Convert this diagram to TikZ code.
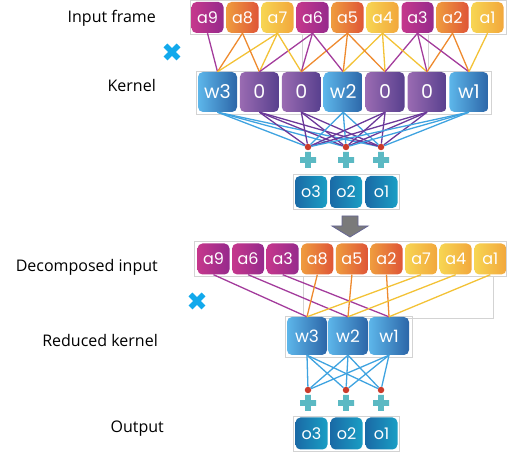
\documentclass[tikz,border=0pt]{standalone}
\usepackage{fontspec}
\setmainfont{Open Sans}
\newfontfamily\cellfont{Poppins}
\usetikzlibrary{positioning}
\definecolor{magL}{HTML}{C5378C}
\definecolor{magR}{HTML}{962A8C}
\definecolor{orgL}{HTML}{EF9C3E}
\definecolor{orgR}{HTML}{DF5537}
\definecolor{yelL}{HTML}{F7D552}
\definecolor{yelR}{HTML}{F2A73C}
\definecolor{wL}{HTML}{5DB6EA}
\definecolor{wR}{HTML}{2C66A8}
\definecolor{zL}{HTML}{9A6BB2}
\definecolor{zR}{HTML}{58408E}
\definecolor{oL}{HTML}{1A6AA6}
\definecolor{oR}{HTML}{1A9EC4}
\definecolor{lmag}{HTML}{A33C9C}
\definecolor{lorg}{HTML}{EE8A2E}
\definecolor{lyel}{HTML}{F3C236}
\definecolor{lblue}{HTML}{3FA3E0}
\definecolor{lpurp}{HTML}{6B3899}
\definecolor{dotred}{HTML}{CC3B2B}
\definecolor{plusteal}{HTML}{5BB9C3}
\definecolor{xblue}{HTML}{12A9EC}
\definecolor{framegray}{HTML}{D3D3D3}

\begin{document}
\begin{tikzpicture}[x=1pt, y=-1pt,
  rowlabel/.style={anchor=base east, inner sep=0pt, font=\fontsize{16}{19}\selectfont},
  cell/.style={rectangle, rounded corners=5pt, inner sep=0pt, text=white, minimum width=32pt, minimum height=31pt, font=\cellfont\fontsize{16}{18}\selectfont},
  magcell/.style={cell, left color=magL, right color=magR},
  orgcell/.style={cell, left color=orgL, right color=orgR},
  yelcell/.style={cell, left color=yelL, right color=yelR},
  kcell/.style={cell, minimum width=39pt, minimum height=40pt, font=\cellfont\fontsize{19}{22}\selectfont},
  wcell/.style={kcell, left color=wL, right color=wR},
  zcell/.style={kcell, left color=zL, right color=zR},
  ocell/.style={cell, minimum width=32pt, minimum height=32pt, left color=oL, right color=oR, font=\cellfont\fontsize{16}{18}\selectfont},
  wire/.style={line width=1.3pt},
  dot/.style={circle, fill=dotred, inner sep=0pt, minimum size=6.5pt},
  frame/.style={draw=framegray, line width=0.7pt},
  addsign/.pic={\fill[plusteal] (-8,-2.8) rectangle (8,2.8) (-2.8,-8) rectangle (2.8,8);},
  mulsign/.pic={\draw[xblue, line width=5.5pt] (-6.5,-6.5) -- (6.5,6.5) (-6.5,6.5) -- (6.5,-6.5);},
]
\useasboundingbox (0,0) rectangle (507,454);

% light frames behind the rows
\draw[frame] (190,0) rectangle (506,34);
\draw[frame] (302,34) rectangle (428,71);
\draw[frame] (196,71) rectangle (491,114);
\draw[frame] (293,174) rectangle (399,209);
\draw[frame] (194,241) rectangle (506,276);
\draw[frame] (303,276) rectangle (493,318);
\draw[frame] (285,316) rectangle (412,357);
\draw[frame] (293,416) rectangle (399,451);

% row labels
\node[rowlabel] (lbl-in) at (156,23) {Input frame};
\node[rowlabel] (lbl-k) at (156,92) {Kernel};
\node[rowlabel] (lbl-dec) at (158,272) {Decomposed input};
\node[rowlabel] (lbl-rk) at (158,347) {Reduced kernel};
\node[rowlabel] (lbl-out) at (164,433) {Output};

\pic at (172,52) {mulsign};
\pic at (197,301) {mulsign};

% input frame
\foreach \lab/\sty [count=\i] in {a9/magcell, a8/orgcell, a7/yelcell, a6/magcell, a5/orgcell, a4/yelcell, a3/magcell, a2/orgcell, a1/yelcell}
  \node[\sty] (in\i) at ({207.5+35*(\i-1)},17.5) {\lab};

% dilated kernel
\foreach \lab/\sty [count=\k] in {w3/wcell, 0/zcell, 0/zcell, w2/wcell, 0/zcell, 0/zcell, w1/wcell}
  \node[\sty] (k\k) at ({217.5+41.9*(\k-1)},92) {\lab};

% each kernel tap sees three neighbouring inputs
\foreach \k in {1,...,7}{
  \foreach \j in {0,1,2}{
    \pgfmathtruncatemacro\i{\k+\j}
    \pgfmathtruncatemacro\m{mod(\i-1,3)}
    \ifcase\m \def\lc{lmag}\or \def\lc{lorg}\or \def\lc{lyel}\fi
    \draw[wire, \lc] (in\i.south) -- (k\k.north);
  }
}

% sums and outputs
\foreach \x [count=\n] in {308,346,381}{
  \node[dot] (d\n) at (\x,147) {};
  \pic at (\x,160) {addsign};
}
\foreach \lab/\x [count=\n] in {o3/311,o2/346,o1/381.5}
  \node[ocell] (o\n) at (\x,192) {\lab};

\foreach \k in {1,...,7}{
  \pgfmathtruncatemacro\m{mod(\k-1,3)}
  \ifnum\m=0 \def\lc{lblue}\else \def\lc{lpurp}\fi
  \foreach \n in {1,2,3}
    \draw[wire, \lc] (k\k.south) -- (d\n);
}

% block arrow
\draw[draw=black!70!blue!60, fill=black!52, line width=0.8pt]
  (342,216) -- (358,216) -- (358,226) -- (368,226) -- (350,237) -- (332,226) -- (342,226) -- cycle;

% decomposed input
\foreach \lab/\sty [count=\i] in {a9/magcell, a6/magcell, a3/magcell, a8/orgcell, a5/orgcell, a2/orgcell, a7/yelcell, a4/yelcell, a1/yelcell}
  \node[\sty] (dec\i) at ({213.5+34.6*(\i-1)},259) {\lab};

% reduced kernel
\foreach \lab [count=\k] in {w3,w2,w1}
  \node[wcell, minimum width=40pt, minimum height=38pt, font=\cellfont\fontsize{17}{20}\selectfont] (r\k) at ({307+41*(\k-1)},336) {\lab};

\foreach \i in {1,...,9}{
  \pgfmathtruncatemacro\k{mod(\i-1,3)+1}
  \pgfmathtruncatemacro\m{(\i-1)/3}
  \ifcase\m \def\lc{lmag}\or \def\lc{lorg}\or \def\lc{lyel}\fi
  \draw[wire, \lc] (dec\i.south) -- (r\k.north);
}

\foreach \x [count=\n] in {308,346,381}{
  \node[dot] (e\n) at (\x,390) {};
  \pic at (\x,403) {addsign};
}
\foreach \lab/\x [count=\n] in {o3/311.5,o2/346.5,o1/381.5}
  \node[ocell] (q\n) at (\x,433.5) {\lab};

\foreach \k in {1,2,3}
  \foreach \n in {1,2,3}
    \draw[wire, lblue] (r\k.south) -- (e\n);

\end{tikzpicture}
\end{document}
